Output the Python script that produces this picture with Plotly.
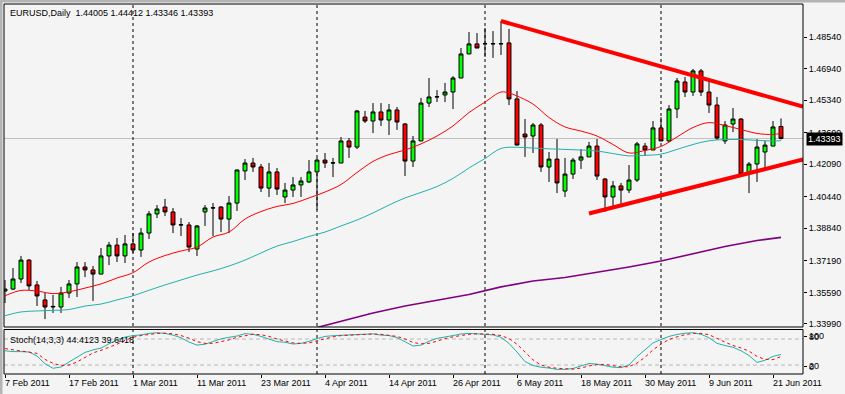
import pandas as pd
import plotly.graph_objects as go

# ---------------- data ----------------
dates = pd.bdate_range("2011-02-07", "2011-06-22")
bars = list(range(len(dates)))

opens = [1.3566, 1.3576, 1.3627, 1.3723, 1.3597, 1.3521, 1.3485, 1.3485, 1.3556, 1.3602,
         1.3688, 1.3673, 1.3652, 1.3744, 1.3799, 1.3744, 1.3805, 1.3774, 1.3860, 1.3957,
         1.3992, 1.3967, 1.3901, 1.3901, 1.3779, 1.3967, 1.3987, 1.3992, 1.3931, 1.4012,
         1.4175, 1.4215, 1.4195, 1.4088, 1.4170, 1.4043, 1.4078, 1.4104, 1.4119, 1.4170,
         1.4230, 1.4215, 1.4215, 1.4327, 1.4296, 1.4448, 1.4428, 1.4474, 1.4433, 1.4484,
         1.4413, 1.4225, 1.4327, 1.4519, 1.4550, 1.4560, 1.4575, 1.4646, 1.4768, 1.4819,
         1.4819, 1.4819, 1.4819, 1.4824, 1.4540, 1.4362, 1.4352, 1.4408, 1.4195, 1.4235,
         1.4073, 1.4159, 1.4230, 1.4246, 1.4301, 1.4134, 1.4043, 1.4099, 1.4078, 1.4129,
         1.4301, 1.4281, 1.4393, 1.4327, 1.4489, 1.4626, 1.4575, 1.4682, 1.4575, 1.4509,
         1.4327, 1.4413, 1.4438, 1.4164, 1.4210, 1.4271, 1.4301, 1.44005]
highs = [1.3622, 1.3683, 1.3744, 1.3728, 1.3617, 1.3556, 1.3546, 1.3587, 1.3622, 1.3713,
         1.3713, 1.3693, 1.3784, 1.3815, 1.3835, 1.3850, 1.3860, 1.3886, 1.3972, 1.4002,
         1.4033, 1.3987, 1.3936, 1.3916, 1.3901, 1.4002, 1.4012, 1.3997, 1.4048, 1.4180,
         1.4235, 1.4241, 1.4210, 1.4215, 1.4190, 1.4114, 1.4144, 1.4144, 1.4230, 1.4241,
         1.4266, 1.4241, 1.4347, 1.4342, 1.4484, 1.4479, 1.4519, 1.4519, 1.4514, 1.4499,
         1.4418, 1.4352, 1.4545, 1.4646, 1.4585, 1.4621, 1.4656, 1.4798, 1.4879, 1.4874,
         1.4900, 1.4884, 1.4935, 1.4895, 1.4580, 1.4438, 1.4418, 1.4418, 1.4271, 1.4337,
         1.4241, 1.4241, 1.4286, 1.4322, 1.4337, 1.4139, 1.4124, 1.4114, 1.4205, 1.4322,
         1.4317, 1.4428, 1.4448, 1.4509, 1.4646, 1.4651, 1.4692, 1.4692, 1.4646, 1.4550,
         1.4428, 1.4494, 1.4443, 1.4220, 1.4337, 1.4327, 1.4428, 1.44412]
lows = [1.3505, 1.3571, 1.3607, 1.3571, 1.3490, 1.3424, 1.3455, 1.3455, 1.3531, 1.3536,
        1.3637, 1.3516, 1.3652, 1.3698, 1.3713, 1.3708, 1.3759, 1.3739, 1.3830, 1.3936,
        1.3946, 1.3860, 1.3845, 1.3764, 1.3744, 1.3896, 1.3845, 1.3865, 1.3860, 1.3972,
        1.4129, 1.4170, 1.4068, 1.4043, 1.4053, 1.4012, 1.4043, 1.4043, 1.4114, 1.3977,
        1.4190, 1.4144, 1.4215, 1.4241, 1.4286, 1.4418, 1.4367, 1.4403, 1.4357, 1.4383,
        1.4149, 1.4195, 1.4327, 1.4499, 1.4524, 1.4524, 1.4489, 1.4646, 1.4768, 1.4798,
        1.4753, 1.4748, 1.4763, 1.4509, 1.4306, 1.4246, 1.4266, 1.4170, 1.4119, 1.4063,
        1.4043, 1.4134, 1.4185, 1.4246, 1.4129, 1.3967, 1.3992, 1.4007, 1.4063, 1.4119,
        1.4251, 1.4281, 1.4327, 1.4322, 1.4443, 1.4550, 1.4555, 1.4555, 1.4469, 1.4332,
        1.4312, 1.4372, 1.4154, 1.4063, 1.4119, 1.4190, 1.4301, 1.43346]
closes = [1.3576, 1.3627, 1.3723, 1.3592, 1.3541, 1.3485, 1.3488, 1.3556, 1.3602, 1.3688,
          1.3673, 1.3652, 1.3744, 1.3799, 1.3744, 1.3805, 1.3774, 1.3860, 1.3957, 1.3982,
          1.3967, 1.3901, 1.3902, 1.3789, 1.3896, 1.3987, 1.3988, 1.3931, 1.4012, 1.4180,
          1.4215, 1.4195, 1.4088, 1.4170, 1.4083, 1.4078, 1.4104, 1.4124, 1.4170, 1.4230,
          1.4215, 1.4216, 1.4327, 1.4296, 1.4479, 1.4428, 1.4474, 1.4433, 1.4484, 1.4423,
          1.4225, 1.4327, 1.4519, 1.4550, 1.4551, 1.4575, 1.4646, 1.4768, 1.4819, 1.4798,
          1.4820, 1.4820, 1.4820, 1.4540, 1.4306, 1.4347, 1.4408, 1.4195, 1.4235, 1.4114,
          1.4159, 1.4230, 1.4246, 1.4301, 1.4149, 1.4043, 1.4099, 1.4078, 1.4129, 1.4312,
          1.4281, 1.4393, 1.4327, 1.4489, 1.4631, 1.4575, 1.4682, 1.4575, 1.4509, 1.4342,
          1.4408, 1.4438, 1.4159, 1.4210, 1.4296, 1.4306, 1.4398, 1.43393]

# moving averages (bar index, price)
ma_red_bars = [0, 2, 4, 6, 8, 10, 12, 14, 16, 18, 20, 22, 24, 26, 28, 30, 32, 34, 36, 38, 40,
               42, 44, 46, 48, 50, 52, 54, 56, 58, 60, 62, 63, 64, 66, 68, 70, 72, 74, 76, 78,
               80, 82, 84, 86, 88, 90, 92, 94, 96, 97]
ma_red_vals = [1.3542, 1.3569, 1.3566, 1.3553, 1.3562, 1.3581, 1.3602, 1.3632, 1.3659, 1.3713,
               1.3746, 1.3769, 1.3789, 1.3840, 1.3865, 1.3931, 1.3969, 1.3995, 1.4010, 1.4038,
               1.4068, 1.4106, 1.4167, 1.4223, 1.4258, 1.4281, 1.4312, 1.4352, 1.4403, 1.4471,
               1.4524, 1.4575, 1.4570, 1.4555, 1.4514, 1.4446, 1.4398, 1.4377, 1.4352, 1.4309,
               1.4266, 1.4279, 1.4299, 1.4347, 1.4395, 1.4420, 1.4405, 1.4385, 1.4365, 1.4360,
               1.4366]
ma_teal_bars = [0, 2, 4, 6, 8, 10, 12, 14, 16, 18, 20, 22, 24, 26, 28, 30, 32, 34, 36, 38, 40,
                42, 44, 46, 48, 50, 52, 54, 56, 58, 60, 62, 64, 66, 68, 70, 72, 74, 76, 78, 80,
                82, 84, 86, 88, 90, 92, 94, 96, 97]
ma_teal_vals = [1.3441, 1.3460, 1.3465, 1.3468, 1.3472, 1.3490, 1.3500, 1.3521, 1.3542, 1.3570,
                1.3597, 1.3622, 1.3647, 1.3668, 1.3693, 1.3723, 1.3759, 1.3794, 1.3817, 1.3843,
                1.3865, 1.3896, 1.3926, 1.3962, 1.4002, 1.4038, 1.4066, 1.4096, 1.4137, 1.4190,
                1.4238, 1.4289, 1.4295, 1.4291, 1.4287, 1.4284, 1.4281, 1.4276, 1.4263, 1.4251,
                1.4254, 1.4260, 1.4284, 1.4309, 1.4328, 1.4334, 1.4334, 1.4330, 1.4327, 1.4328]
ma_purple_bars = [39, 42, 46, 50, 54, 58, 62, 66, 70, 74, 78, 82, 86, 90, 94, 97]
ma_purple_vals = [1.3381, 1.3412, 1.3455, 1.3490, 1.3518, 1.3548, 1.3587, 1.3617, 1.3635,
                  1.3660, 1.3688, 1.3718, 1.3756, 1.3792, 1.3822, 1.3838]

# hand-drawn trend lines (bar index, price)
trend_upper_bars = [62, 99.75]
trend_upper_vals = [1.4935, 1.4501]
trend_lower_bars = [73, 99.75]
trend_lower_vals = [1.3959, 1.4233]

# Stochastic(14,3,3)
stoch_k = [53, 51, 51, 50, 41, 23, 12.5, 15.5, 27, 39,
           49, 55, 59, 69, 78, 84.5, 88, 89.5, 93, 94.5,
           93, 89, 83, 73, 66, 68, 75, 80.5, 84, 87,
           92.5, 91, 86, 80, 74, 72.5, 68.5, 70, 74.5, 81,
           86, 87.7, 88.7, 89.5, 91, 92.5, 92, 89, 88, 83.5,
           74, 64, 66, 75, 81.5, 85.5, 88, 91.7, 93, 92,
           90.5, 89.5, 84, 70, 50, 28, 19, 15, 13, 10,
           10, 12, 18, 23.5, 22, 19, 15, 14, 20, 39.5,
           55, 71, 79, 86, 90.5, 93.5, 94.5, 91, 83, 70,
           65, 61, 53, 42, 26, 31, 40, 44.41]
stoch_d = [58, 55, 52, 50, 47, 33, 24, 19, 20, 27,
           38, 48, 54, 61, 68, 77, 84, 88, 91, 93,
           93.5, 92, 88, 82, 74, 70, 70, 74, 78, 84,
           88, 91, 90, 86, 80, 75, 71, 70, 71, 76,
           81, 85, 88, 89, 90, 91, 91.5, 91, 89, 86,
           80, 72, 69, 70, 75, 81, 85, 88, 91, 92,
           92, 91, 88, 81, 68, 50, 32, 20, 15, 12.5,
           11, 10.5, 13, 18, 21, 21.5, 18.5, 16, 16, 24.5,
           38, 55, 68, 79, 85, 90, 93, 93, 90, 81,
           73, 65, 59.5, 52, 40, 33, 32.5, 39.64]
stoch_levels = [20, 80]

separator_bars = [16, 39, 60, 82]
price_tick_vals = [1.48540, 1.46940, 1.45340, 1.43690, 1.42090, 1.40440, 1.38840, 1.37190, 1.35590, 1.33990]
date_tick_bars = bars[::8]
date_tick_text = [f"{dates[i].day} {dates[i].strftime('%b %Y')}" for i in date_tick_bars]
last_price = closes[-1]
title_text = "EURUSD,Daily\u00a0 1.44005 1.44412 1.43346 1.43393"
stoch_text = "Stoch(14,3,3) 44.4123 39.6418"

# ---------------- layout helpers ----------------
W, H = 845, 394
PL, PR, PT, PB = 4, 803, 4, 374
def fx(px):
    return (px - PL) / (PR - PL)
def fy(py):
    return (PB - py) / (PB - PT)

MAIN_BOTTOM = 327
STOCH_TOP = 329.5
FONT = "Liberation Sans, Arial, sans-serif"
BG = "#F4F4F4"

fig = go.Figure()

fig.add_trace(go.Candlestick(
    x=bars, open=opens, high=highs, low=lows, close=closes,
    increasing=dict(line=dict(color="black", width=1), fillcolor="#00FF00"),
    decreasing=dict(line=dict(color="black", width=1), fillcolor="#FF0000"),
    whiskerwidth=0, xaxis="x", yaxis="y", showlegend=False, hoverinfo="skip"))

fig.add_trace(go.Scatter(x=ma_purple_bars, y=ma_purple_vals, mode="lines",
                         line=dict(color="#800080", width=1.6), xaxis="x", yaxis="y", showlegend=False))
fig.add_trace(go.Scatter(x=ma_teal_bars, y=ma_teal_vals, mode="lines", line_shape="spline",
                         line=dict(color="#20B2AA", width=1), xaxis="x", yaxis="y", showlegend=False))
fig.add_trace(go.Scatter(x=ma_red_bars, y=ma_red_vals, mode="lines", line_shape="spline",
                         line=dict(color="#FF0000", width=1), xaxis="x", yaxis="y", showlegend=False))
fig.add_trace(go.Scatter(x=trend_upper_bars, y=trend_upper_vals, mode="lines",
                         line=dict(color="#FF0000", width=4), xaxis="x", yaxis="y", showlegend=False))
fig.add_trace(go.Scatter(x=trend_lower_bars, y=trend_lower_vals, mode="lines",
                         line=dict(color="#FF0000", width=4), xaxis="x", yaxis="y", showlegend=False))

fig.add_trace(go.Scatter(x=bars, y=stoch_k, mode="lines",
                         line=dict(color="#20B2AA", width=1), xaxis="x", yaxis="y2", showlegend=False))
fig.add_trace(go.Scatter(x=bars, y=stoch_d, mode="lines",
                         line=dict(color="#FF0000", width=1, dash="3px,3px"), xaxis="x", yaxis="y2", showlegend=False))

shapes = []
shapes.append(dict(type="line", xref="paper", x0=0, x1=1, yref="y", y0=last_price, y1=last_price,
                   line=dict(color="#C0C0C0", width=1), layer="below"))
for lv in stoch_levels:
    shapes.append(dict(type="line", xref="paper", x0=0, x1=1, yref="y2", y0=lv, y1=lv,
                       line=dict(color="#B8B8B8", width=1, dash="4px,3px"), layer="below"))
for b in separator_bars:
    shapes.append(dict(type="line", xref="x", x0=b, x1=b, yref="paper", y0=0, y1=1,
                       line=dict(color="black", width=1, dash="3px,3px"), layer="below"))
shapes.append(dict(type="rect", xref="paper", x0=0, x1=1, yref="paper", y0=fy(MAIN_BOTTOM), y1=1,
                   line=dict(color="black", width=1), fillcolor="rgba(0,0,0,0)"))
shapes.append(dict(type="rect", xref="paper", x0=0, x1=1, yref="paper", y0=0, y1=fy(STOCH_TOP),
                   line=dict(color="black", width=1), fillcolor="rgba(0,0,0,0)"))
shapes.append(dict(type="rect", xref="paper", x0=fx(0), x1=fx(W), yref="paper", y0=fy(0), y1=fy(2.5),
                   line=dict(width=0), fillcolor="#B4B4B4"))
shapes.append(dict(type="rect", xref="paper", x0=fx(0), x1=fx(2.5), yref="paper", y0=fy(H), y1=fy(0),
                   line=dict(width=0), fillcolor="#B4B4B4"))

annotations = [
    dict(text=title_text, xref="paper", yref="paper", x=fx(8), y=fy(13), xanchor="left", yanchor="middle",
         showarrow=False, font=dict(family=FONT, size=9, color="black")),
    dict(text=stoch_text, xref="paper", yref="paper", x=fx(8), y=fy(340), xanchor="left", yanchor="middle",
         showarrow=False, font=dict(family=FONT, size=9, color="black")),
    dict(text=f"{last_price:.5f}", xref="paper", yref="y", x=fx(805.5), y=last_price, xanchor="left",
         yanchor="middle", showarrow=False, bgcolor="black", borderpad=1,
         font=dict(family=FONT, size=9, color="white")),
]
for txt, py in [("100", 335.5), ("80", 336.5), ("20", 366), ("0", 367)]:
    annotations.append(dict(text=txt, xref="paper", yref="paper", x=fx(807), y=fy(py), xanchor="left",
                            yanchor="middle", showarrow=False, font=dict(family=FONT, size=9, color="black")))
# date labels, left-aligned at their bar like MetaTrader
for b, txt in zip(date_tick_bars, date_tick_text):
    annotations.append(dict(text=txt, xref="x", yref="paper", x=b, y=fy(383), xanchor="left",
                            yanchor="middle", xshift=-2, showarrow=False,
                            font=dict(family=FONT, size=9, color="black")))

fig.update_layout(
    width=W, height=H,
    margin=dict(l=PL, r=W - PR, t=PT, b=H - PB),
    paper_bgcolor=BG, plot_bgcolor=BG,
    font=dict(family=FONT, size=9, color="black"),
    showlegend=False,
    xaxis=dict(domain=[0, 1], range=[-0.125, 99.75], anchor="y2", tickmode="array",
               tickvals=date_tick_bars, showticklabels=False, ticks="outside", ticklen=3,
               tickcolor="black", showgrid=False, zeroline=False,
               showline=False, rangeslider=dict(visible=False)),
    yaxis=dict(domain=[fy(MAIN_BOTTOM), 1], range=[1.33837, 1.50213], side="right", anchor="x",
               tickmode="array", tickvals=price_tick_vals, ticktext=[f"{v:.5f}" for v in price_tick_vals],
               ticks="outside", ticklen=3, tickcolor="black", showgrid=False, zeroline=False,
               showline=False, tickfont=dict(family=FONT, size=9)),
    yaxis2=dict(domain=[0, fy(STOCH_TOP)], range=[-0.7, 102], side="right", anchor="x",
                tickmode="array", tickvals=[85.8, 16.6], showticklabels=False,
                ticks="outside", ticklen=3, tickcolor="black", showgrid=False, zeroline=False, showline=False),
    shapes=shapes, annotations=annotations,
)

fig.write_html("out.html", config={"displayModeBar": False},
               post_script="document.body.style.margin='0';document.body.style.background='#F4F4F4';")
